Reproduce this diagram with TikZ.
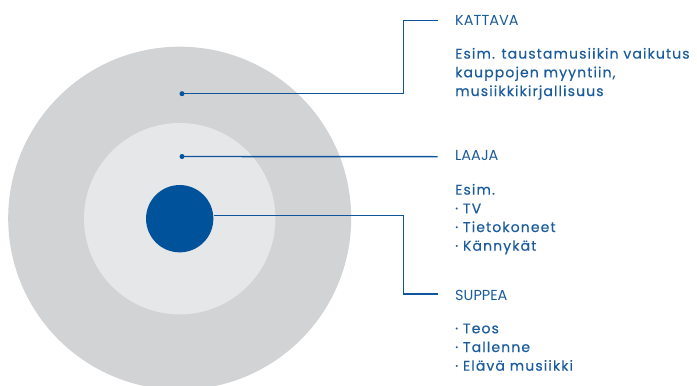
\documentclass[tikz,border=0pt]{standalone}
\usepackage{fontspec}
\setmainfont{Poppins}
\newfontfamily\bodyfont[LetterSpace=8,FakeBold=0.4]{Poppins}
\definecolor{outergray}{HTML}{D2D3D5}
\definecolor{midgray}{HTML}{E6E7E9}
\definecolor{corebl}{HTML}{00529B}
\definecolor{linebl}{HTML}{0F559C}
\definecolor{txtbl}{HTML}{1A5B9C}
\tikzset{
  ring/.style={circle, inner sep=0pt, draw=none},
  dotnode/.style={circle, fill=corebl, inner sep=0pt, minimum size=5pt},
  lead/.style={draw=linebl, line width=1.4pt},
  head/.style={anchor=base west, inner sep=0pt, text=txtbl, font=\fontsize{14.5}{18.7}\selectfont},
  body/.style={anchor=base west, inner sep=0pt, text=txtbl, align=left, font=\bodyfont\fontsize{14}{18.7}\selectfont}
}
\begin{document}
\begin{tikzpicture}[x=1pt,y=-1pt]
\useasboundingbox (0,0) rectangle (697,386);
\clip (0,0) rectangle (697,386);
\node[ring, fill=outergray, minimum size=343pt] (outer) at (179.7,218.2) {};
\node[ring, fill=midgray, minimum size=191.4pt] (mid) at (179.7,218.7) {};
\node[ring, fill=corebl, minimum size=67.3pt] (core) at (179.7,218.7) {};
\node[dotnode] (d1) at (182,93.7) {};
\node[dotnode] (d2) at (182,156.5) {};
\node[head] (h1) at (455,25.7) {KATTAVA};
\node[body] (b1) at (455,96) {Esim. taustamusiikin vaikutus\\kauppojen myyntiin,\\musiikkikirjallisuus};
\node[head] (h2) at (455,160.7) {LAAJA};
\node[body] (b2) at (455,250.7) {Esim.\\· TV\\· Tietokoneet\\· Kännykät};
\node[head] (h3) at (455,300) {SUPPEA};
\node[body] (b3) at (455,370.7) {· Teos\\· Tallenne\\· Elävä musiikki};
\coordinate (e1) at (437.5,20.7);
\coordinate (e2) at (437.5,156.7);
\coordinate (e3) at (437.5,294);
\draw[lead] (d1.center) -- (403.3,93.7) -- (403.3,20.7) -- (e1);
\draw[lead] (d2.center) -- (e2);
\draw[lead] (core.east |- 0,215.7) -- (403.3,215.7) -- (403.3,294) -- (e3);
\end{tikzpicture}
\end{document}
